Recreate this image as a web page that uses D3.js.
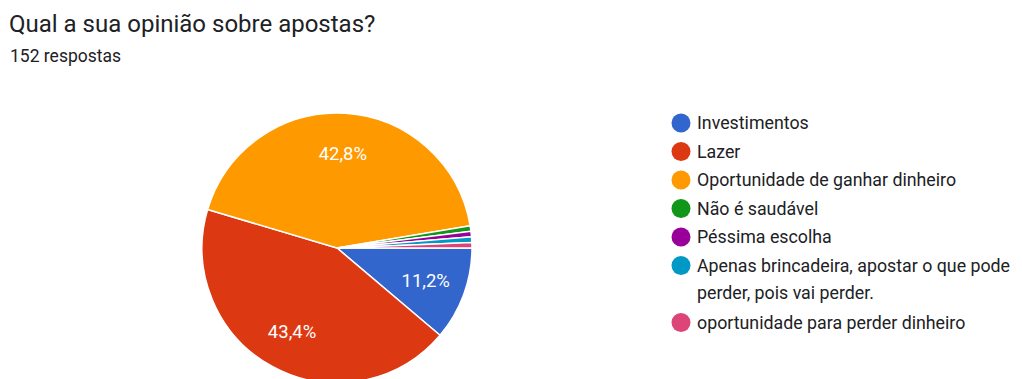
<!DOCTYPE html>
<html>
<head>
<meta charset="utf-8">
<script src="https://cdn.jsdelivr.net/npm/d3@7"></script>
<style>
  body { margin: 0; background: #fff; }
  text { font-family: Roboto, "Noto Sans", sans-serif; }
</style>
</head>
<body>
<script>
// Google Forms pie: "Qual a sua opinião sobre apostas?"

const width = 1022;
const height = 379;

const categories = [
  "Investimentos",
  "Lazer",
  "Oportunidade de ganhar dinheiro",
  "Não é saudável",
  "Péssima escolha",
  "Apenas brincadeira, apostar o que pode perder, pois vai perder.",
  "oportunidade para perder dinheiro"
];
const counts = [17, 66, 65, 1, 1, 1, 1];
const colors = ["#3366cc", "#dc3912", "#ff9900", "#109618", "#990099", "#0099c6", "#dd4477"];
// legend lines (long label wraps in two)
const legendLines = [
  ["Investimentos"],
  ["Lazer"],
  ["Oportunidade de ganhar dinheiro"],
  ["Não é saudável"],
  ["Péssima escolha"],
  ["Apenas brincadeira, apostar o que pode", "perder, pois vai perder."],
  ["oportunidade para perder dinheiro"]
];

const total = d3.sum(counts);
const data = categories.map((c, i) => ({name: c, value: counts[i], color: colors[i], lines: legendLines[i]}));

const svg = d3.select("body").append("svg")
    .attr("width", width)
    .attr("height", height);

svg.append("text")
    .attr("x", 9).attr("y", 32)
    .attr("font-size", 24)
    .attr("fill", "#202124")
    .text("Qual a sua opinião sobre apostas?");

svg.append("text")
    .attr("x", 10).attr("y", 62)
    .attr("font-size", 17.5)
    .attr("fill", "#202124")
    .text(total + " respostas");

// pie
const cx = 337, cy = 248, r = 135;
const pie = d3.pie().value(d => d.value).sort(null)
    .startAngle(Math.PI / 2).endAngle(Math.PI / 2 + 2 * Math.PI);
const arc = d3.arc().innerRadius(0).outerRadius(r);
const labelArc = d3.arc().innerRadius(r * 0.7).outerRadius(r * 0.7);

const g = svg.append("g").attr("transform", "translate(" + cx + "," + cy + ")");
const arcs = pie(data);

g.selectAll(".slice")
    .data(arcs)
    .join("path")
    .attr("class", "slice")
    .attr("d", arc)
    .attr("fill", d => d.data.color)
    .attr("stroke", "white")
    .attr("stroke-width", 1.5);

const fmt = v => (Math.round(v * 1000) / 10).toFixed(1).replace(".", ",") + "%";

g.selectAll(".pct")
    .data(arcs.filter(d => d.data.value / total > 0.05))
    .join("text")
    .attr("class", "pct")
    .attr("transform", d => "translate(" + labelArc.centroid(d) + ")")
    .attr("text-anchor", "middle")
    .attr("dy", "0.35em")
    .attr("font-size", 18.5)
    .attr("fill", "white")
    .text(d => fmt(d.data.value / total));

// legend
const legend = svg.append("g").attr("transform", "translate(681,123)");
let row = 0;
data.forEach(d => {
  const item = legend.append("g").attr("transform", "translate(0," + row * 28.5 + ")");
  item.append("circle").attr("r", 9.5).attr("fill", d.color);
  d.lines.forEach((line, j) => {
    item.append("text")
        .attr("x", 16).attr("y", j * 27.5)
        .attr("dy", "0.35em")
        .attr("font-size", 17.8)
        .attr("fill", "#202124")
        .text(line);
  });
  row += d.lines.length;
});
</script>
</body>
</html>
